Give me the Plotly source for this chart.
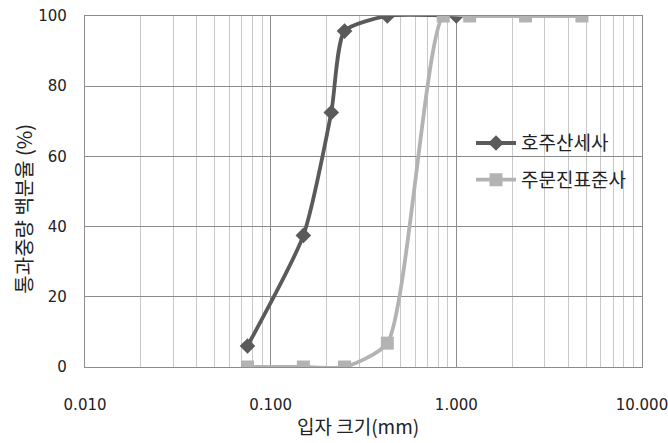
import plotly.graph_objects as go

# Data
s1_name = "호주산세사"
s1_x = [0.075, 0.15, 0.212, 0.25, 0.425, 1.0]
s1_y = [6.0, 37.5, 72.5, 95.7, 100.0, 100.0]

s2_name = "주문진표준사"
s2_x = [0.075, 0.15, 0.25, 0.425, 0.85, 1.18, 2.36, 4.75]
s2_y = [0.0, 0.0, 0.0, 6.8, 100.0, 100.0, 100.0, 100.0]

x_tickvals = [0.01, 0.1, 1, 10]
x_ticktext = ["0.010", "0.100", "1.000", "10.000"]
y_tickvals = [0, 20, 40, 60, 80, 100]

x_title = "입자 크기(mm)"
y_title = "통과중량 백분율 (%)"

dark = "#5a5a5a"
light = "#b3b3b3"
num_font = "DejaVu Sans"
kr_font = "Noto Sans CJK KR"

fig = go.Figure()
fig.add_trace(go.Scatter(
    x=s1_x, y=s1_y, name=s1_name, mode="lines+markers", legendgroup="a",
    line=dict(color=dark, width=3.8, shape="spline", smoothing=0.6),
    marker=dict(symbol="diamond", size=12, color=dark),
))
fig.add_trace(go.Scatter(
    x=s2_x, y=s2_y, name=s2_name, mode="lines+markers", legendgroup="b",
    line=dict(color=light, width=3.8, shape="spline", smoothing=0.6),
    marker=dict(symbol="square", size=13, color=light),
))

fig.update_layout(
    width=668, height=443,
    margin=dict(l=85, r=26, t=16, b=76, autoexpand=False),
    paper_bgcolor="white", plot_bgcolor="white",
    font=dict(family=num_font, size=15, color="#222"),
    legend=dict(
        x=0.693, y=0.585, xanchor="left", yanchor="middle",
        bgcolor="rgba(0,0,0,0)",
        font=dict(family=kr_font, size=19, color="#222"),
        itemwidth=40, tracegroupgap=9,
    ),
    xaxis=dict(
        type="log", range=[-2.0002, 1.0002], automargin=False,
        tickvals=x_tickvals, ticktext=x_ticktext, ticklabeloverflow="allow",
        showgrid=True, gridcolor="#8c8c8c", gridwidth=1.2,
        minor=dict(showgrid=True, gridcolor="#c8c8c8", gridwidth=1, dtick="D1", ticks=""),
        showline=True, linecolor="#8c8c8c", linewidth=1.2, mirror=True,
        ticks="", ticklabelstandoff=24,
        zeroline=False,
    ),
    yaxis=dict(
        range=[0, 100], tickvals=y_tickvals, automargin=False,
        showgrid=True, gridcolor="#8c8c8c", gridwidth=1.2,
        showline=True, linecolor="#8c8c8c", linewidth=1.2, mirror=True,
        ticks="", ticklabelstandoff=14,
        zeroline=False,
    ),
    annotations=[
        dict(text=x_title, xref="paper", yref="paper", x=0.49, y=-0.168,
             xanchor="center", yanchor="middle", showarrow=False,
             font=dict(family=kr_font, size=19, color="#222")),
        dict(text=y_title, xref="paper", yref="paper", x=-0.112, y=0.45,
             xanchor="center", yanchor="middle", showarrow=False, textangle=-90,
             font=dict(family=kr_font, size=20, color="#222")),
    ],
)

fig.write_html("out.html", post_script="document.body.style.margin='0';",
               config={"displayModeBar": False})
